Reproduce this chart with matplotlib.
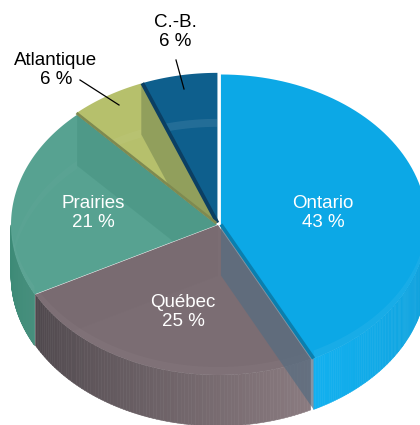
import numpy as np
import matplotlib
matplotlib.use('Agg')
import matplotlib.pyplot as plt
from matplotlib.colors import to_rgb
from matplotlib.collections import PolyCollection
from matplotlib.patches import Polygon

plt.rcParams['font.family'] = ['Liberation Sans', 'DejaVu Sans']

# values as printed, clockwise from 12 o'clock
names = ['Ontario', 'Québec', 'Prairies', 'Atlantique', 'C.-B.']
shares = [43, 25, 21, 6, 6]

top_colors = ['#0ca8e6', '#7b6d73', '#57a291', '#b6c06c', '#0e5f8d']
wall_left = ['#12b0ef', '#4f484d', '#3c8a76', '#8f9a58', '#0d4468']
wall_right = ['#0f9ed8', '#8a7b80', '#478f7d', '#8f9a58', '#0d4468']
inner_colors = ['#0a6f9c', '#5d5258', '#2f7d6a', '#5f7248', '#0f4f78']
# how strongly each inner wall shows through the top
inner_alpha = [0.0, 0.04, 0.22, 0.42, 0.05]
lower_rim_alpha = [0.0, 0.03, 0.02, 0.04, 0.09]
front_rim_alpha = [0.05, 0.03, 0.03, 0.0, 0.0]
strip_colors = [None, None, None, '#7f8a50', '#0b3f63']
strip_widths = [0, 0, 0, 2.0, 2.8]
# small shift of each slice away from the centre, in px
explode = [3, 0, 1, 3, 3]
order = [4, 3, 2, 0, 1]  # back to front

cx, cy = 218, 225
rx, ry = 206, 150
depth = 51

fig = plt.figure(figsize=(4.2, 4.25), dpi=100)
ax = fig.add_axes([0, 0, 1, 1])
ax.set_xlim(0, 420)
ax.set_ylim(425, 0)
ax.axis('off')


def arc(a0, a1, ox, oy, drop=0, scale=1.0, n=80):
    t = np.radians(np.linspace(a0, a1, n))
    return np.column_stack([cx + ox + scale * rx * np.sin(t),
                            cy + oy - scale * ry * np.cos(t) + drop])


def mix(c1, c2, f):
    return tuple((1 - f) * a + f * b for a, b in zip(to_rgb(c1), to_rgb(c2)))


def draw_slice(i, a0, a1):
    mid = np.radians((a0 + a1) / 2)
    ox = explode[i] * np.sin(mid)
    oy = -explode[i] * np.cos(mid) * ry / rx
    apex = np.array([[cx + ox, cy + oy]])
    rim = arc(a0, a1, ox, oy)
    outline = np.vstack([apex, rim])

    # front wall, strips running from left to right of the slice
    lo, hi = max(a0, 90), min(a1, 270)
    if lo < hi:
        edge = arc(lo, hi, ox, oy, n=90)
        quads, cols = [], []
        for k in range(len(edge) - 1):
            p, q = edge[k], edge[k + 1]
            quads.append([p, q, q + [0, depth], p + [0, depth]])
            cols.append(mix(wall_right[i], wall_left[i], k / (len(edge) - 2)))
        ax.add_collection(PolyCollection(quads, facecolors=cols, edgecolors=cols,
                                         linewidths=0.4, zorder=2))

    top = Polygon(outline, closed=True, facecolor=top_colors[i], edgecolor='none', zorder=3)
    ax.add_patch(top)

    # cut face at the end of the slice, seen through the top surface
    face = np.vstack([apex, rim[-1:], rim[-1:] + [0, depth], apex + [0, depth]])
    p = Polygon(face, closed=True, facecolor=inner_colors[i], edgecolor='none',
                alpha=inner_alpha[i], zorder=3.1)
    ax.add_patch(p)
    p.set_clip_path(top)

    # faint light band of the lower rim
    band_a = arc(a0, a1, ox, oy, drop=depth - 5)
    band_b = arc(a0, a1, ox, oy, drop=depth + 3)
    band = Polygon(np.vstack([band_a, band_b[::-1]]), closed=True, facecolor='white',
                   edgecolor='none', alpha=lower_rim_alpha[i], zorder=3.2)
    ax.add_patch(band)
    band.set_clip_path(top)

    # light crescent along the front edge
    if lo < hi:
        outer = arc(lo, hi, ox, oy)
        inner = arc(lo, hi, ox, oy, drop=-8)
        cres = Polygon(np.vstack([outer, inner[::-1]]), closed=True, facecolor='white',
                       edgecolor='none', alpha=front_rim_alpha[i], zorder=3.2)
        ax.add_patch(cres)
        cres.set_clip_path(top)

    # darker strip along the start edge
    if strip_colors[i]:
        ax.plot([apex[0, 0], rim[0, 0]], [apex[0, 1], rim[0, 1]], color=strip_colors[i],
                lw=strip_widths[i], solid_capstyle='butt', zorder=3.3)
    return apex[0], rim


ends = np.cumsum(shares) / sum(shares) * 360
starts = np.r_[0, ends[:-1]]
geom = {}
for i in order:
    geom[i] = draw_slice(i, starts[i], ends[i])

# Ontario's cut face, seen through Québec
apex, rim = geom[0]
face = np.vstack([apex, rim[-1], rim[-1] + [0, depth], apex + [0, depth]])
ax.add_patch(Polygon(face, closed=True, facecolor='#566c80', edgecolor='none',
                     alpha=0.72, zorder=4))
ax.plot([apex[0], rim[-1, 0]], [apex[1], rim[-1, 1]], color='#0b7fae', lw=2.6,
        solid_capstyle='butt', zorder=4.1)

label_pos = [(323, 213), (183, 312), (93, 213), (56, 70), (175, 32)]
label_col = ['white', 'white', 'white', 'black', 'black']
for name, share, (x, y), col in zip(names, shares, label_pos, label_col):
    ax.text(x, y, f'{name}\n{share} %', color=col, fontsize=13.5, ha='center', va='center',
            linespacing=1.08, zorder=6)

# leader lines
ax.plot([176, 184], [60, 89], color='black', lw=0.9, zorder=6)
ax.plot([80, 119], [80, 105], color='black', lw=0.9, zorder=6)

fig.savefig('out.png', dpi=100)
